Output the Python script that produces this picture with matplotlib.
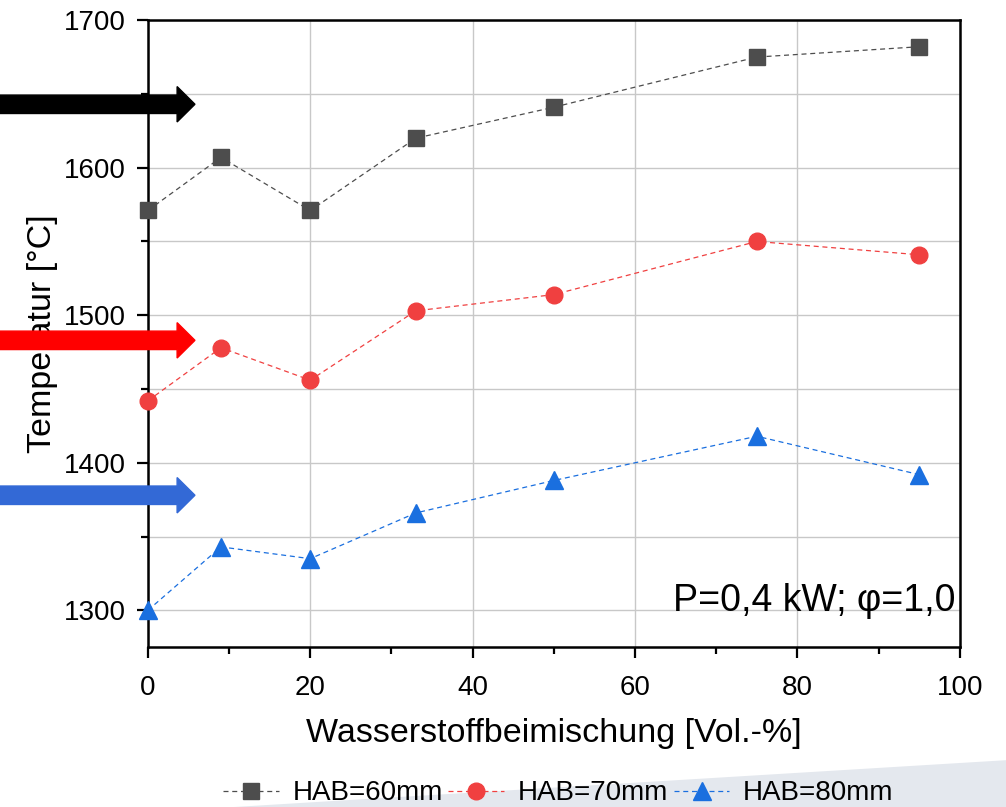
import numpy as np
import matplotlib.pyplot as plt
from matplotlib.patches import FancyArrow, Polygon
from matplotlib.ticker import MultipleLocator

plt.rcParams['font.family'] = ['Liberation Sans', 'DejaVu Sans']

# Daten
h2_anteil = [0, 9, 20, 33, 50, 75, 95]
temp_60 = [1571, 1607, 1571, 1620, 1641, 1675, 1682]
temp_70 = [1442, 1478, 1456, 1503, 1514, 1550, 1541]
temp_80 = [1300, 1343, 1335, 1366, 1388, 1418, 1392]
labels = ["HAB=60mm", "HAB=70mm", "HAB=80mm"]
arrow_levels = [1643, 1483, 1378]

c_60 = "#4d4d4d"
c_70 = "#f04040"
c_80 = "#1a6fdf"

fig = plt.figure(figsize=(10.06, 8.07), dpi=100)
ax = fig.add_axes([0.147, 0.198, 0.807, 0.777])

# grauer Keil unten rechts (Folienhintergrund)
fig.patches.append(Polygon([[0.233, 0.0], [1.0, 0.058], [1.0, 0.0]], closed=True,
                           transform=fig.transFigure, facecolor="#e4e8ee",
                           edgecolor="none", zorder=0))

ax.plot(h2_anteil, temp_60, ls="--", lw=0.9, color=c_60, marker="s", ms=11, dashes=(4, 3),
        clip_on=False, zorder=4, label=labels[0])
ax.plot(h2_anteil, temp_70, ls="--", lw=0.9, color=c_70, marker="o", ms=12, dashes=(4, 3),
        clip_on=False, zorder=4, label=labels[1])
ax.plot(h2_anteil, temp_80, ls="--", lw=0.9, color=c_80, marker="^", ms=13, dashes=(4, 3),
        clip_on=False, zorder=4, label=labels[2])

ax.set_xlim(0, 100)
ax.set_ylim(1275, 1700)
ax.xaxis.set_major_locator(MultipleLocator(20))
ax.xaxis.set_minor_locator(MultipleLocator(10))
ax.yaxis.set_major_locator(MultipleLocator(100))
ax.yaxis.set_minor_locator(MultipleLocator(50))
ax.grid(True, which="major", color="#c8c8c8", lw=1)
ax.grid(True, which="minor", axis="y", color="#c8c8c8", lw=1)
ax.set_axisbelow(True)
ax.tick_params(which="major", direction="out", length=8, width=1.6, labelsize=20, pad=8)
ax.tick_params(which="minor", direction="out", length=5, width=1.6)
ax.tick_params(axis="x", which="major", pad=12)
for s in ax.spines.values():
    s.set_linewidth(1.8)

ax.set_xlabel("Wasserstoffbeimischung [Vol.-%]", fontsize=24.5, labelpad=12)
ax.set_ylabel("Temperatur [°C]", fontsize=24.5, labelpad=4)

ax.text(0.995, 0.045, "P=0,4 kW; φ=1,0", transform=ax.transAxes, ha="right", va="bottom", fontsize=27)

# Pfeile links neben der Achse
for lvl, col in zip(arrow_levels, ["#000000", "#ff0000", "#3369d6"]):
    arr = FancyArrow(-18.5, lvl, 24.3, 0, width=12.5, head_width=24, head_length=2.2,
                     length_includes_head=True, color=col, clip_on=False, zorder=5)
    ax.add_patch(arr)

fig.legend(loc="center", bbox_to_anchor=(0.555, 0.017), ncol=3, frameon=False,
           fontsize=20, handlelength=2.0, handletextpad=0.5, columnspacing=0.2,
           borderaxespad=0, borderpad=0)

fig.savefig("out.png", dpi=100)
